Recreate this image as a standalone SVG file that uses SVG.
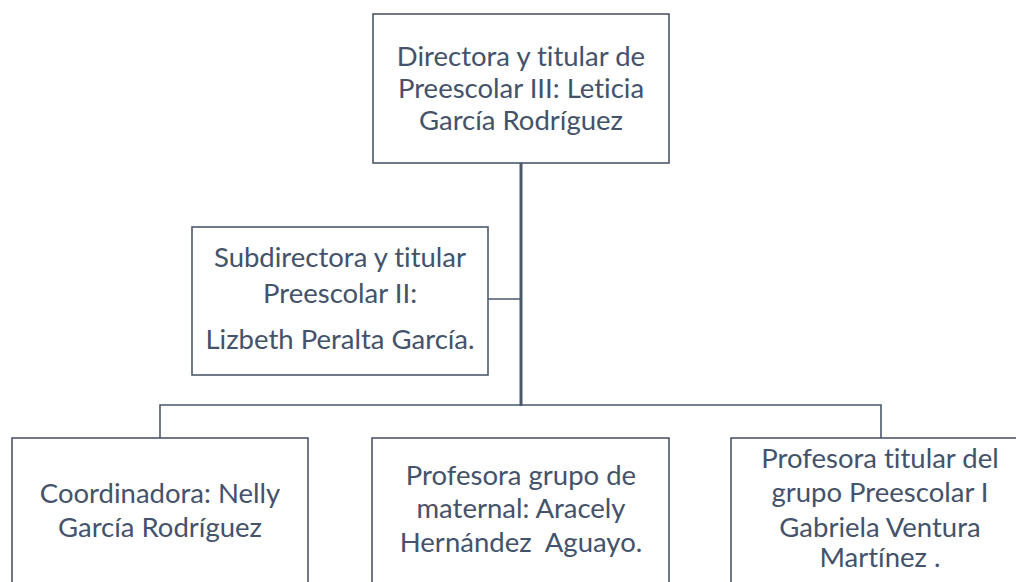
<svg xmlns="http://www.w3.org/2000/svg" width="1016" height="582" viewBox="0 0 1016 582">
<style>
.box{fill:#ffffff;stroke:#4b586a;stroke-width:1.6}
.t{font-family:"Lato","Open Sans","Liberation Sans",sans-serif;font-size:27.5px;fill:#44526a;text-anchor:middle;font-variant-ligatures:none}
.c{fill:none;stroke:#4b586a;stroke-width:1.6}
</style>
<rect width="1016" height="582" fill="#ffffff"/>
<g id="connectors">
<line class="c" x1="521" y1="163" x2="521" y2="406" style="stroke-width:3"/>
<line class="c" x1="488" y1="299" x2="521" y2="299"/>
<polyline class="c" points="160,438 160,405 881,405 881,438"/>
</g>
<g id="n-directora">
<rect class="box" x="373" y="14" width="296" height="149"/>
<text class="t" x="521" y="66">Directora y titular de</text>
<text class="t" x="521" y="98">Preescolar III: Leticia</text>
<text class="t" x="521" y="130">García Rodríguez</text>
</g>
<g id="n-subdirectora">
<rect class="box" x="192" y="227" width="296" height="148"/>
<text class="t" x="340" y="267">Subdirectora y titular</text>
<text class="t" x="340" y="303">Preescolar II:</text>
<text class="t" x="340" y="349">Lizbeth Peralta García.</text>
</g>
<g id="n-coordinadora">
<rect class="box" x="12" y="438" width="296" height="160"/>
<text class="t" x="160" y="503">Coordinadora: Nelly</text>
<text class="t" x="160" y="537">García Rodríguez</text>
</g>
<g id="n-maternal">
<rect class="box" x="372" y="438" width="297" height="160"/>
<text class="t" x="521" y="485">Profesora grupo de</text>
<text class="t" x="521" y="518">maternal: Aracely</text>
<text class="t" x="521" y="552" xml:space="preserve">Hernández  Aguayo.</text>
</g>
<g id="n-preescolar1">
<rect class="box" x="731" y="438" width="300" height="160"/>
<text class="t" x="880" y="468">Profesora titular del</text>
<text class="t" x="880" y="502">grupo Preescolar I</text>
<text class="t" x="880" y="537">Gabriela Ventura</text>
<text class="t" x="880" y="567">Martínez .</text>
</g>
</svg>
